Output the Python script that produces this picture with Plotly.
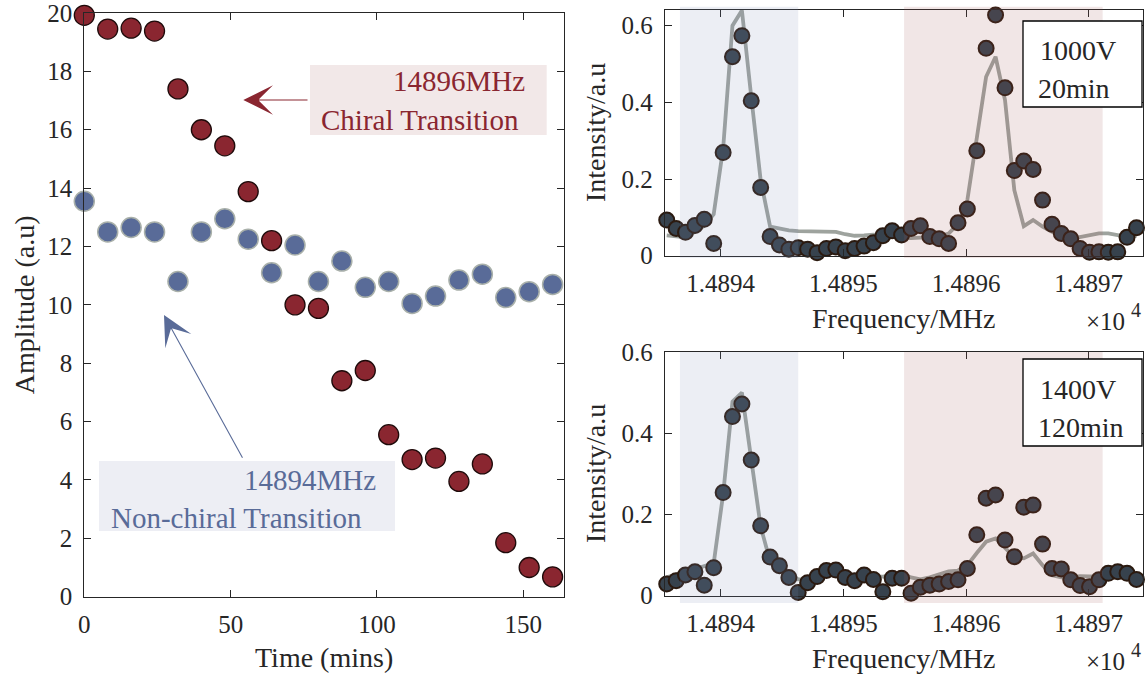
import plotly.graph_objects as go

# ---------------- data ----------------
time_min = [0, 8, 16, 24, 32, 40, 48, 56, 64, 72, 80, 88, 96, 104, 112, 120, 128, 136, 144, 152, 160]
chiral_amp = [19.92, 19.45, 19.48, 19.38, 17.4, 16.0, 15.45, 13.88, 12.2, 10.0, 9.88, 7.4, 7.75,
              5.55, 4.7, 4.75, 3.95, 4.55, 1.85, 1.0, 0.68]
nonchiral_amp = [13.55, 12.5, 12.65, 12.5, 10.8, 12.5, 12.95, 12.25, 11.1, 12.05, 10.8, 11.5, 10.6,
                 10.8, 10.05, 10.3, 10.85, 11.05, 10.25, 10.45, 10.7]

freq_mhz = [14893.560, 14893.637, 14893.713, 14893.790, 14893.866, 14893.943, 14894.020, 14894.096,
            14894.173, 14894.249, 14894.326, 14894.403, 14894.479, 14894.556, 14894.632, 14894.709,
            14894.786, 14894.862, 14894.939, 14895.015, 14895.092, 14895.169, 14895.245, 14895.322,
            14895.398, 14895.475, 14895.552, 14895.628, 14895.705, 14895.781, 14895.858, 14895.935,
            14896.011, 14896.088, 14896.164, 14896.241, 14896.318, 14896.394, 14896.471, 14896.547,
            14896.624, 14896.701, 14896.777, 14896.854, 14896.930, 14897.007, 14897.084, 14897.160,
            14897.237, 14897.313, 14897.390]

int_1000v = [0.093, 0.071, 0.061, 0.079, 0.095, 0.032, 0.269, 0.519, 0.574, 0.404, 0.178, 0.050,
             0.028, 0.017, 0.021, 0.017, 0.008, 0.019, 0.023, 0.013, 0.019, 0.025, 0.034, 0.052,
             0.065, 0.054, 0.071, 0.078, 0.050, 0.044, 0.032, 0.086, 0.122, 0.274, 0.541, 0.628,
             0.438, 0.222, 0.247, 0.225, 0.145, 0.082, 0.058, 0.044, 0.019, 0.009, 0.010, 0.009,
             0.010, 0.048, 0.073]
fit_1000v = [0.053, 0.051, 0.048, 0.062, 0.078, 0.108, 0.280, 0.600, 0.640, 0.415, 0.197, 0.076,
             0.071, 0.066, 0.064, 0.064, 0.064, 0.063, 0.062, 0.056, 0.052, 0.053, 0.055, 0.052,
             0.048, 0.046, 0.046, 0.047, 0.048, 0.050, 0.058, 0.083, 0.145, 0.300, 0.467, 0.519,
             0.406, 0.171, 0.077, 0.093, 0.076, 0.062, 0.050, 0.044, 0.049, 0.054, 0.058, 0.058,
             0.054, 0.049, 0.052]

int_1400v = [0.029, 0.037, 0.051, 0.059, 0.026, 0.069, 0.254, 0.441, 0.472, 0.334, 0.172, 0.095,
             0.074, 0.045, 0.008, 0.032, 0.047, 0.062, 0.063, 0.045, 0.037, 0.051, 0.040, 0.010,
             0.043, 0.043, 0.006, 0.021, 0.026, 0.029, 0.035, 0.039, 0.067, 0.150, 0.240, 0.248,
             0.137, 0.096, 0.218, 0.223, 0.127, 0.067, 0.066, 0.039, 0.025, 0.022, 0.039, 0.055,
             0.059, 0.055, 0.040]
fit_1400v = [0.045, 0.052, 0.058, 0.065, 0.072, 0.080, 0.250, 0.478, 0.500, 0.330, 0.170, 0.085,
             0.070, 0.058, 0.040, 0.040, 0.047, 0.052, 0.055, 0.052, 0.048, 0.048, 0.048, 0.047,
             0.050, 0.055, 0.045, 0.040, 0.045, 0.052, 0.060, 0.062, 0.075, 0.105, 0.133, 0.141,
             0.117, 0.095, 0.092, 0.104, 0.075, 0.050, 0.045, 0.045, 0.048, 0.047, 0.047, 0.052,
             0.055, 0.055, 0.055]

freq_ticks = [14894, 14895, 14896, 14897]
freq_tick_labels = ["1.4894", "1.4895", "1.4896", "1.4897"]
int_ticks = [0, 0.2, 0.4, 0.6]
int_tick_labels = ["0", "0.2", "0.4", "0.6"]
amp_ticks = [0, 2, 4, 6, 8, 10, 12, 14, 16, 18, 20]
time_ticks = [0, 50, 100, 150]

nonchiral_band = [14893.668, 14894.632]
chiral_band = [14895.495, 14897.114]

# ---------------- styling ----------------
W, H = 1148, 678
FONT = "Liberation Serif"
AX = "#262626"
RED = "rgb(138,38,48)"
BLUE = "rgb(89,107,152)"


def PX(x):
    return x / W


def PY(y):
    return 1 - y / H


fig = go.Figure()

# left panel
fig.add_trace(go.Scatter(x=time_min, y=nonchiral_amp, mode="markers", xaxis="x", yaxis="y",
                         marker=dict(size=20, color=BLUE, line=dict(color="#a9b0aa", width=1.5)),
                         showlegend=False, cliponaxis=False))
fig.add_trace(go.Scatter(x=time_min, y=chiral_amp, mode="markers", xaxis="x", yaxis="y",
                         marker=dict(size=20, color=RED, line=dict(color="#1e0a0a", width=1.3)),
                         showlegend=False, cliponaxis=False))

# right panels
for xa, ya, fit, dat in [("x2", "y2", fit_1000v, int_1000v), ("x3", "y3", fit_1400v, int_1400v)]:
    fig.add_trace(go.Scatter(x=freq_mhz, y=fit, mode="lines", xaxis=xa, yaxis=ya,
                             line=dict(color="#9ea39e", width=3.8), showlegend=False))
    fig.add_trace(go.Scatter(x=freq_mhz, y=dat, mode="markers", xaxis=xa, yaxis=ya,
                             marker=dict(size=15, color="#37424d", line=dict(color="#2b1a10", width=2)),
                             showlegend=False, cliponaxis=False))

axis_common = dict(showline=True, linecolor=AX, linewidth=1.3, mirror="allticks", ticks="inside",
                   ticklen=7, tickcolor=AX, showgrid=False, zeroline=False, automargin=False,
                   ticklabeloverflow="allow",
                   tickfont=dict(family=FONT, size=25, color=AX))

fig.update_layout(
    width=W, height=H, margin=dict(l=0, r=0, t=0, b=0, autoexpand=False),
    plot_bgcolor="white", paper_bgcolor="white",
    font=dict(family=FONT, color=AX),
    xaxis=dict(domain=[PX(84.3), PX(564.3)], range=[0, 164], anchor="y", tickvals=time_ticks,
               ticklabelstandoff=5, **axis_common),
    yaxis=dict(domain=[PY(596.7), PY(13)], range=[0, 20], anchor="x", tickvals=amp_ticks,
               ticklabelstandoff=6, **axis_common),
    xaxis2=dict(domain=[PX(665), PX(1143)], range=[14893.546, 14897.443], anchor="y2",
                tickvals=freq_ticks, ticktext=freq_tick_labels, ticklabelstandoff=5, **axis_common),
    yaxis2=dict(domain=[PY(255.7), PY(10)], range=[0, 0.641], anchor="x2",
                tickvals=int_ticks, ticktext=int_tick_labels, ticklabelstandoff=6, **axis_common),
    xaxis3=dict(domain=[PX(665), PX(1143)], range=[14893.546, 14897.443], anchor="y3",
                tickvals=freq_ticks, ticktext=freq_tick_labels, ticklabelstandoff=5, **axis_common),
    yaxis3=dict(domain=[PY(595.7), PY(352)], range=[0, 0.6], anchor="x3",
                tickvals=int_ticks, ticktext=int_tick_labels, ticklabelstandoff=6, **axis_common),
)

shapes = []
# highlighted frequency bands (drawn translucently above the data, as in the original)
for xa, ytop, ybot in [("x2", 6.7, 258), ("x3", 352, 603)]:
    shapes.append(dict(type="rect", xref=xa, yref="paper", x0=nonchiral_band[0], x1=nonchiral_band[1],
                       y0=PY(ybot), y1=PY(ytop), fillcolor="rgb(128,142,182)", opacity=0.15,
                       line=dict(width=0), layer="above"))
    shapes.append(dict(type="rect", xref=xa, yref="paper", x0=chiral_band[0], x1=chiral_band[1],
                       y0=PY(ybot), y1=PY(ytop), fillcolor="rgb(162,88,88)", opacity=0.15,
                       line=dict(width=0), layer="above"))
# condition boxes
for top, bot in [(21, 107), (359, 446)]:
    shapes.append(dict(type="rect", xref="paper", yref="paper", x0=PX(1023), x1=PX(1142),
                       y0=PY(bot), y1=PY(top), fillcolor="white", line=dict(color="black", width=1.3),
                       layer="above"))
# label boxes in left panel
shapes.append(dict(type="rect", xref="paper", yref="paper", x0=PX(310), x1=PX(546.7), y0=PY(135),
                   y1=PY(65), fillcolor="#f2e8e8", line=dict(width=0), layer="below"))
shapes.append(dict(type="rect", xref="paper", yref="paper", x0=PX(99), x1=PX(395), y0=PY(531),
                   y1=PY(461), fillcolor="#edeef4", line=dict(width=0), layer="below"))
fig.update_layout(shapes=shapes)

ann = []


def txt(text, x, y, size=28, color=AX, xanchor="center", angle=0):
    ann.append(dict(text=text, x=PX(x), y=PY(y), xref="paper", yref="paper", showarrow=False,
                    xanchor=xanchor, yanchor="middle", textangle=angle,
                    font=dict(family=FONT, size=size, color=color)))


txt("Time (mins)", 324, 657)
txt("Amplitude (a.u)", 24.5, 304.8, angle=-90)
txt("Frequency/MHz", 904, 318)
txt("Frequency/MHz", 904, 658)
txt("Intensity/a.u", 595, 133, angle=-90)
txt("Intensity/a.u", 595, 474, angle=-90)
for yb in (321, 661):
    txt("×10", 1127, yb, size=25, xanchor="right")
    txt("4", 1129, yb - 11, size=20, xanchor="left")
txt("1000V", 1038, 50, xanchor="left")
txt("20min", 1036, 88, xanchor="left")
txt("1400V", 1038, 389, xanchor="left")
txt("120min", 1036, 427, xanchor="left")
txt("14896MHz", 527, 81, size=29, color=RED, xanchor="right")
txt("Chiral Transition", 319, 120, size=29, color=RED, xanchor="left")
txt("14894MHz", 378, 480, size=29, color=BLUE, xanchor="right")
txt("Non-chiral Transition", 109, 518, size=29, color=BLUE, xanchor="left")

# arrows
ann.append(dict(text="", x=PX(243.3), y=PY(100), xref="paper", yref="paper", showarrow=True,
                ax=65.7, ay=0, arrowhead=3, arrowsize=4.5, arrowwidth=1.1, arrowcolor=RED,
                standoff=0, startstandoff=0))
ann.append(dict(text="", x=PX(164), y=PY(315), xref="paper", yref="paper", showarrow=True,
                ax=79.3, ay=144.3, arrowhead=3, arrowsize=4.5, arrowwidth=1.1, arrowcolor=BLUE,
                standoff=0, startstandoff=0))
fig.update_layout(annotations=ann)

fig.write_html("out.html")
